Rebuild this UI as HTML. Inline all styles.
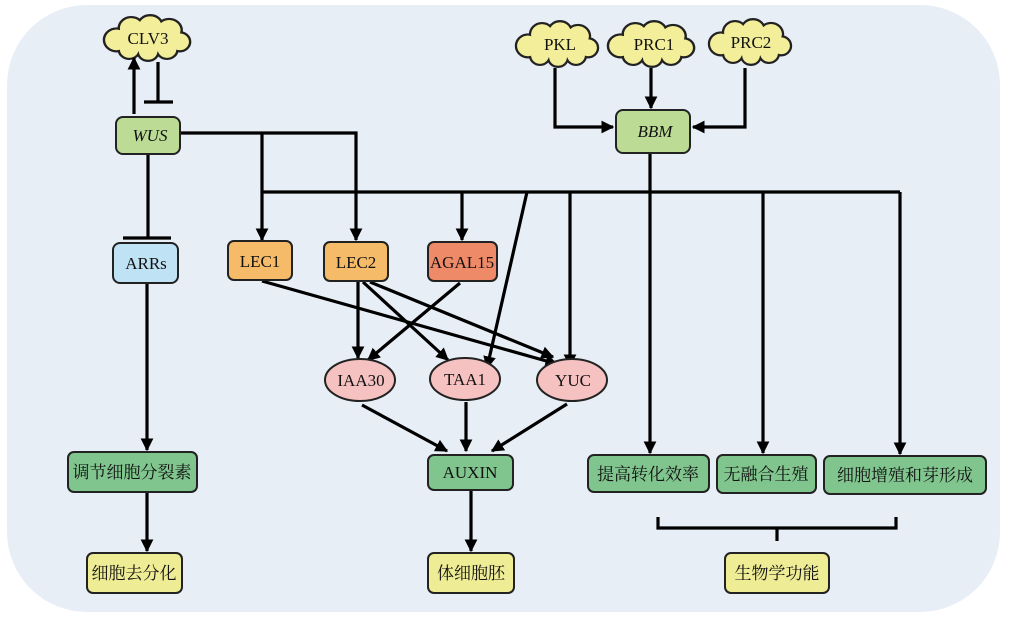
<!DOCTYPE html>
<html><head><meta charset="utf-8"><style>
html,body{margin:0;padding:0;background:#fff;}
svg{display:block;}
text{font-family:"Liberation Serif","Noto Serif CJK SC",serif;fill:#111;}
</style></head><body>
<svg width="1010" height="618" viewBox="0 0 1010 618" xmlns="http://www.w3.org/2000/svg">
<defs>
<marker id="a" viewBox="0 0 10 10" refX="9" refY="5" markerWidth="4" markerHeight="4" orient="auto" markerUnits="strokeWidth"><path d="M0,0 L10,5 L0,10 z" fill="#000"/></marker>
<g id="cloud">
<g stroke="#222" stroke-width="2.4" fill="#f3ee99">
<circle cx="-28" cy="2" r="12"/><circle cx="-14" cy="-10" r="12"/><circle cx="4" cy="-12" r="12"/><circle cx="22" cy="-8" r="12"/><circle cx="32" cy="4" r="10"/><circle cx="20" cy="12" r="10"/><circle cx="2" cy="14" r="10"/><circle cx="-16" cy="12" r="10"/>
</g>
<g fill="#f3ee99">
<circle cx="-28" cy="2" r="10.8"/><circle cx="-14" cy="-10" r="10.8"/><circle cx="4" cy="-12" r="10.8"/><circle cx="22" cy="-8" r="10.8"/><circle cx="32" cy="4" r="8.8"/><circle cx="20" cy="12" r="8.8"/><circle cx="2" cy="14" r="8.8"/><circle cx="-16" cy="12" r="8.8"/><ellipse cx="2" cy="1" rx="30" ry="14"/>
</g>
</g>
</defs>
<rect x="7" y="5" width="993" height="607" rx="80" ry="80" fill="#e8eef6"/>

<!-- clouds -->
<use href="#cloud" transform="translate(146,38) scale(1.05,0.95)"/>
<text x="148" y="44" font-size="17" text-anchor="middle">CLV3</text>
<use href="#cloud" transform="translate(556,44) scale(1.0,0.95)"/>
<text x="560" y="50" font-size="17" text-anchor="middle">PKL</text>
<use href="#cloud" transform="translate(650,44) scale(1.05,0.95)"/>
<text x="654" y="50" font-size="17" text-anchor="middle">PRC1</text>
<use href="#cloud" transform="translate(749,42) scale(1.0,0.95)"/>
<text x="751" y="48" font-size="17" text-anchor="middle">PRC2</text>

<g stroke="#000" stroke-width="3.2" fill="none">
<!-- CLV3/WUS -->
<line x1="134" y1="114" x2="134" y2="58" marker-end="url(#a)"/>
<line x1="158" y1="62" x2="158" y2="102"/>
<line x1="144" y1="102" x2="173" y2="102"/>
<line x1="148" y1="155" x2="148" y2="238"/>
<line x1="123" y1="238" x2="171" y2="238"/>
<!-- WUS to LEC -->
<polyline points="180,133 356,133 356,240" marker-end="url(#a)"/>
<line x1="262" y1="133" x2="262" y2="240" marker-end="url(#a)"/>
<line x1="262" y1="192" x2="900" y2="192"/>
<line x1="462" y1="192" x2="462" y2="240" marker-end="url(#a)"/>
<line x1="527" y1="192" x2="487" y2="368" marker-end="url(#a)"/>
<line x1="570" y1="192" x2="570" y2="366" marker-end="url(#a)"/>
<line x1="650" y1="153" x2="650" y2="453" marker-end="url(#a)"/>
<line x1="763" y1="192" x2="763" y2="453" marker-end="url(#a)"/>
<line x1="900" y1="192" x2="900" y2="454" marker-end="url(#a)"/>
<!-- BBM inputs -->
<polyline points="555,68 555,127 613,127" marker-end="url(#a)"/>
<line x1="651" y1="68" x2="651" y2="108" marker-end="url(#a)"/>
<polyline points="745,68 745,127 693,127" marker-end="url(#a)"/>
<!-- LEC to ellipses -->
<line x1="262" y1="281" x2="557" y2="364" marker-end="url(#a)"/>
<line x1="358" y1="282" x2="358" y2="358" marker-end="url(#a)"/>
<line x1="363" y1="282" x2="448" y2="360" marker-end="url(#a)"/>
<line x1="370" y1="282" x2="553" y2="357" marker-end="url(#a)"/>
<line x1="460" y1="283" x2="368" y2="360" marker-end="url(#a)"/>
<!-- ellipses to AUXIN -->
<line x1="362" y1="405" x2="447" y2="451" marker-end="url(#a)"/>
<line x1="466" y1="402" x2="466" y2="451" marker-end="url(#a)"/>
<line x1="567" y1="404" x2="492" y2="451" marker-end="url(#a)"/>
<!-- down arrows -->
<line x1="147" y1="283" x2="147" y2="450" marker-end="url(#a)"/>
<line x1="147" y1="492" x2="147" y2="551" marker-end="url(#a)"/>
<line x1="471" y1="490" x2="471" y2="551" marker-end="url(#a)"/>
<!-- bracket -->
<polyline points="658,517 658,528 896,528 896,517"/>
<line x1="777" y1="528" x2="777" y2="541"/>
</g>

<g stroke="#222" stroke-width="2">
<rect x="116" y="117" width="64" height="37" rx="7" fill="#bcdc96"/>
<rect x="616" y="110" width="74" height="43" rx="7" fill="#bcdc96"/>
<rect x="113" y="243" width="65" height="40" rx="7" fill="#bfe3f4"/>
<rect x="228" y="241" width="64" height="39" rx="6" fill="#f5bb68"/>
<rect x="324" y="242" width="64" height="39" rx="6" fill="#f5bb68"/>
<rect x="428" y="242" width="69" height="39" rx="6" fill="#ef8a68"/>
<ellipse cx="360" cy="380" rx="35" ry="21" fill="#f6c1c1"/>
<ellipse cx="465" cy="379" rx="35" ry="21" fill="#f6c1c1"/>
<ellipse cx="572" cy="380" rx="35" ry="21" fill="#f6c1c1"/>
<rect x="428" y="455" width="85" height="35" rx="6" fill="#80c58e"/>
<rect x="68" y="452" width="129" height="40" rx="6" fill="#80c58e"/>
<rect x="588" y="455" width="121" height="37" rx="6" fill="#80c58e"/>
<rect x="717" y="455" width="99" height="38" rx="6" fill="#80c58e"/>
<rect x="824" y="456" width="162" height="38" rx="6" fill="#80c58e"/>
<rect x="87" y="553" width="95" height="40" rx="6" fill="#eeec94"/>
<rect x="428" y="553" width="86" height="40" rx="6" fill="#eeec94"/>
<rect x="725" y="553" width="104" height="40" rx="6" fill="#eeec94"/>
</g>

<g font-size="17" text-anchor="middle">
<text x="150" y="141" font-style="italic">WUS</text>
<text x="655" y="137" font-style="italic">BBM</text>
<text x="146" y="269">ARRs</text>
<text x="260" y="267">LEC1</text>
<text x="356" y="268">LEC2</text>
<text x="462" y="268">AGAL15</text>
<text x="361" y="386">IAA30</text>
<text x="465" y="385">TAA1</text>
<text x="573" y="386">YUC</text>
<text x="470" y="478">AUXIN</text>
<text x="132" y="478">调节细胞分裂素</text>
<text x="648" y="480">提高转化效率</text>
<text x="766" y="480">无融合生殖</text>
<text x="905" y="481">细胞增殖和芽形成</text>
<text x="134" y="579">细胞去分化</text>
<text x="471" y="579">体细胞胚</text>
<text x="777" y="579">生物学功能</text>
</g>
</svg>
</body></html>
